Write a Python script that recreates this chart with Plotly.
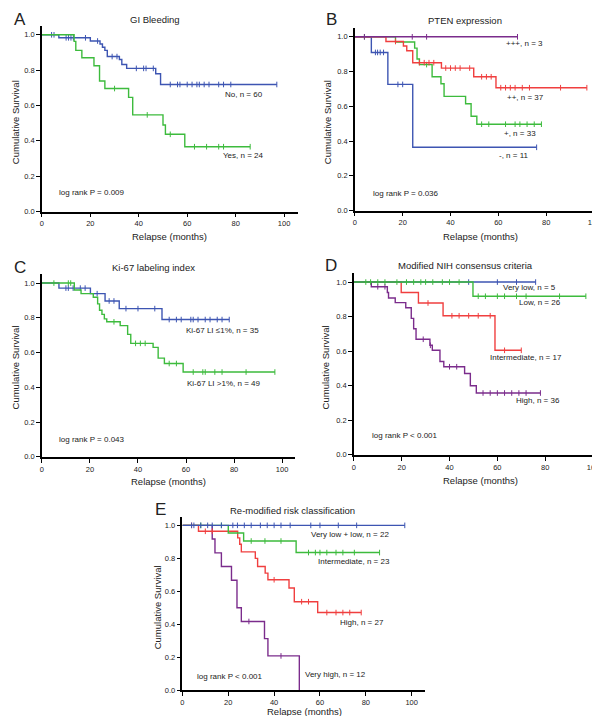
import plotly.graph_objects as go
import bisect

W, H = 600, 716
BLUE = "#3d55b2"
GREEN = "#3dbb3d"
RED = "#f03f3f"
PURPLE = "#7b2c8c"
FONT = "Liberation Sans, Arial, sans-serif"

# ---------------- data ----------------
# Panel A: GI Bleeding
A_no_times = [7, 20, 24, 25, 26, 27, 32, 33, 35, 47, 49]
A_no_surv = [0.983, 0.965, 0.948, 0.93, 0.912, 0.877, 0.86, 0.832, 0.81, 0.78, 0.719]
A_no_cens = [4, 5, 10, 11, 12, 13, 18, 23, 29, 31, 39, 42, 43, 46, 53, 56, 57, 60, 62, 64, 65, 67, 69, 73, 75, 78, 97]
A_yes_times = [13.3, 14, 16.5, 21.5, 23.8, 26, 35.8, 37.5, 50, 51, 59]
A_yes_surv = [0.963, 0.912, 0.87, 0.825, 0.739, 0.696, 0.646, 0.547, 0.49, 0.437, 0.367]
A_yes_cens = [30, 43.5, 53, 63, 68, 73, 75, 86]

# Panel B: PTEN expression
B_p3_times = []
B_p3_surv = []
B_p3_cens = [4, 24, 30, 68]
B_p2_times = [13, 20.3, 21.7, 24.2, 36.2, 49.7, 59]
B_p2_surv = [0.973, 0.947, 0.92, 0.851, 0.82, 0.77, 0.707]
B_p2_cens = [17, 27, 29, 31, 33, 38, 40, 42, 44, 48, 53, 55, 57, 61, 63, 65, 67, 70, 73, 86, 97]
B_p1_times = [17, 25, 26, 27, 32.3, 36, 37.3, 46.3, 48.6, 51]
B_p1_surv = [0.97, 0.935, 0.872, 0.84, 0.77, 0.73, 0.657, 0.615, 0.543, 0.497]
B_p1_cens = [4, 30, 53, 56, 63, 67, 69, 72, 75, 78]
B_neg_times = [6.9, 13.8, 24.2]
B_neg_surv = [0.91, 0.726, 0.364]
B_neg_cens = [8.6, 9.5, 10.6, 12, 18, 20, 76]

# Panel C: Ki-67 labeling index
C_lo_times = [7.1, 20.2, 26.3, 32.2, 50]
C_lo_surv = [0.971, 0.939, 0.897, 0.853, 0.79]
C_lo_cens = [10, 11, 13, 16, 18, 23, 28, 30, 35, 40, 47, 53, 56, 58, 62, 63, 65, 68, 70, 73, 75, 78]
C_hi_times = [13.5, 16.3, 21.4, 23.2, 24, 25, 26, 27, 32.6, 35.7, 37, 46.3, 48.4, 51, 58.8]
C_hi_surv = [0.96, 0.939, 0.918, 0.88, 0.844, 0.82, 0.794, 0.777, 0.755, 0.705, 0.653, 0.63, 0.568, 0.537, 0.488]
C_hi_cens = [5, 11, 12, 30, 39, 41, 43, 53, 56, 63, 67, 68, 72, 75, 85, 97]

# Panel D: Modified NIH consensus criteria
D_vl_times = []
D_vl_surv = []
D_vl_cens = [48, 60, 68, 76]
D_lo_times = [49.8]
D_lo_surv = [0.918]
D_lo_cens = [5, 7, 10, 13, 18, 22, 25, 28, 30, 33, 37, 40, 44, 52, 55, 60, 63, 68, 72, 86, 97]
D_in_times = [19.8, 27, 37.3, 59]
D_in_surv = [0.94, 0.879, 0.805, 0.605]
D_in_cens = [31, 41, 44, 48, 52, 57, 63, 70]
D_hi_times = [7.3, 14, 14.5, 17.3, 21.7, 24, 25, 26, 31.8, 32.8, 36, 37.6, 46.3, 48.7, 51.2]
D_hi_surv = [0.973, 0.94, 0.908, 0.881, 0.851, 0.79, 0.73, 0.669, 0.634, 0.605, 0.54, 0.51, 0.471, 0.4, 0.358]
D_hi_cens = [10, 13, 29, 32, 40, 43, 54, 57, 60, 63, 66, 69, 72, 78]

# Panel E: Re-modified risk classification
E_vl_times = []
E_vl_surv = []
E_vl_cens = [4, 5, 8, 11, 13, 17, 22, 24, 27, 30, 34, 37, 40, 43, 47, 56, 60, 68, 76, 97]
E_in_times = [20, 26.7, 49.6]
E_in_surv = [0.954, 0.905, 0.835]
E_in_cens = [8, 17, 30, 36, 43, 55, 58, 60, 63, 67, 70, 75, 86]
E_hi_times = [7, 24.1, 25, 25.7, 31.8, 32.8, 36.1, 37.3, 46.5, 48.8, 59]
E_hi_surv = [0.964, 0.924, 0.885, 0.839, 0.8, 0.75, 0.71, 0.67, 0.62, 0.537, 0.471]
E_hi_cens = [4, 10, 13, 40, 52, 55, 63, 67, 70, 73, 78]
E_vh_times = [13, 14.2, 17, 21.4, 23.8, 25.7, 35.8, 37.3, 51]
E_vh_surv = [0.917, 0.833, 0.75, 0.667, 0.5, 0.417, 0.313, 0.208, 0.0]
E_vh_cens = [29, 43]

# ---------------- layout helpers ----------------
def px_x(p):
    return p / W

def px_y(p):
    return 1 - p / H

fig = go.Figure()

panels = {
    "A": dict(n="", x0=32, x100=275, xend=289, y0=205, y1=27),
    "B": dict(n="2", x0=346, x100=586, xend=598, y0=204, y1=29),
    "C": dict(n="3", x0=32, x100=273, xend=286, y0=452, y1=277),
    "D": dict(n="4", x0=345, x100=585, xend=598, y0=450, y1=276),
    "E": dict(n="5", x0=173, x100=403, xend=416, y0=687, y1=521),
}

def add_km(panel, times, surv, cens, color):
    p = panels[panel]
    end = max(cens + times) if (cens or times) else 0
    xs = [0] + list(times) + [end]
    ys = [1.0] + list(surv) + [surv[-1] if surv else 1.0]
    xa = "x" + p["n"]
    ya = "y" + p["n"]
    fig.add_trace(go.Scatter(x=xs, y=ys, mode="lines", line=dict(color=color, width=1.4, shape="hv"),
                             xaxis=xa, yaxis=ya, showlegend=False, hoverinfo="skip"))
    cy = []
    for c in cens:
        i = bisect.bisect_right(list(times), c)
        cy.append(1.0 if i == 0 else surv[i - 1])
    fig.add_trace(go.Scatter(x=cens, y=cy, mode="markers",
                             marker=dict(symbol="line-ns", size=4, line=dict(color=color, width=1)),
                             xaxis=xa, yaxis=ya, showlegend=False, hoverinfo="skip"))

add_km("A", A_no_times, A_no_surv, A_no_cens, BLUE)
add_km("A", A_yes_times, A_yes_surv, A_yes_cens, GREEN)

add_km("B", B_neg_times, B_neg_surv, B_neg_cens, BLUE)
add_km("B", B_p1_times, B_p1_surv, B_p1_cens, GREEN)
add_km("B", B_p2_times, B_p2_surv, B_p2_cens, RED)
add_km("B", B_p3_times, B_p3_surv, B_p3_cens, PURPLE)

add_km("C", C_lo_times, C_lo_surv, C_lo_cens, BLUE)
add_km("C", C_hi_times, C_hi_surv, C_hi_cens, GREEN)

add_km("D", D_hi_times, D_hi_surv, D_hi_cens, PURPLE)
add_km("D", D_in_times, D_in_surv, D_in_cens, RED)
add_km("D", D_vl_times, D_vl_surv, D_vl_cens, BLUE)
add_km("D", D_lo_times, D_lo_surv, D_lo_cens, GREEN)

add_km("E", E_vh_times, E_vh_surv, E_vh_cens, PURPLE)
add_km("E", E_hi_times, E_hi_surv, E_hi_cens, RED)
add_km("E", E_in_times, E_in_surv, E_in_cens, GREEN)
add_km("E", E_vl_times, E_vl_surv, E_vl_cens, BLUE)

layout = dict(width=W, height=H, margin=dict(l=0, r=0, t=0, b=0),
              paper_bgcolor="white", plot_bgcolor="white",
              font=dict(family=FONT, size=8, color="#222"))

y_ticks = [0.0, 0.2, 0.4, 0.6, 0.8, 1.0]
x_ticks = [0, 20, 40, 60, 80, 100]

for key, p in panels.items():
    n = p["n"]
    pxm = (p["x100"] - p["x0"]) / 100.0
    xmax = (p["xend"] - p["x0"]) / pxm
    pym = (p["y0"] - p["y1"])
    ytop_px = p["y0"] - 1.05 * pym
    layout["xaxis" + n] = dict(domain=[px_x(p["x0"]), px_x(p["xend"])], range=[0, xmax],
                               anchor="y" + n, showline=True, linecolor="black", linewidth=1.5,
                               ticks="outside", ticklen=4, tickwidth=1.2, tickcolor="black",
                               tickvals=x_ticks, showgrid=False, zeroline=False,
                               tickfont=dict(size=7.5, family=FONT, color="#222"))
    layout["yaxis" + n] = dict(domain=[px_y(p["y0"]), px_y(ytop_px)], range=[0, 1.05],
                               anchor="x" + n, showline=True, linecolor="black", linewidth=1.5,
                               ticks="outside", ticklen=4, tickwidth=1.2, tickcolor="black",
                               tickvals=y_ticks, tickformat=".1f", showgrid=False, zeroline=False,
                               tickfont=dict(size=7.5, family=FONT, color="#222"))

fig.update_layout(**layout)

def text(x, y, s, size=8, xanchor="left", angle=0, yanchor="middle"):
    fig.add_annotation(x=px_x(x), y=px_y(y), xref="paper", yref="paper", text=s, showarrow=False,
                       xanchor=xanchor, yanchor=yanchor, textangle=angle, borderpad=0,
                       font=dict(family=FONT, size=size, color="#222"))

# panel letters and titles
text(3, 12, "A", 17)
text(316, 12, "B", 17)
text(3, 261, "C", 17)
text(315, 259, "D", 17)
text(144, 505, "E", 17)
text(145, 12, "GI Bleeding", 9.5, "center")
text(457, 13, "PTEN expression", 9.5, "center")
text(144, 261, "Ki-67 labeling index", 9.5, "center")
text(457, 259, "Modified NIH consensus criteria", 9.5, "center")
text(283, 506, "Re-modified risk classification", 9.5, "center")

# axis titles
for cx, cy in [(5, 115), (318, 115), (5, 362), (317, 362), (148, 604)]:
    text(cx, cy, "Cumulative Survival", 9.5, "center", -90)
for cx, cy in [(160, 230), (472, 230), (159, 477), (472, 476)]:
    text(cx, cy, "Relapse (months)", 9.5, "center")
text(295, 715, "Relapse (months)", 9.5, "center", 0, "bottom")

# series labels
text(215, 87, "No, n = 60")
text(213, 149, "Yes, n = 24")
text(48, 186, "log rank P = 0.009")

text(497, 36, "+++, n = 3")
text(498, 90, "++, n = 37")
text(495, 126, "+, n = 33")
text(490, 149, "-, n = 11")
text(363, 187, "log rank P = 0.036")

text(176, 325, "Ki-67 LI ≤1%, n = 35")
text(177, 378, "Ki-67 LI >1%, n = 49")
text(48, 435, "log rank P = 0.043")

text(494, 281, "Very low, n = 5")
text(510, 297, "Low, n = 26")
text(481, 352, "Intermediate, n = 17")
text(507, 395, "High, n = 36")
text(362, 431, "log rank P < 0.001")

text(301, 530, "Very low + low, n = 22")
text(308, 557, "Intermediate, n = 23")
text(330, 619, "High, n = 27")
text(295, 671, "Very high, n = 12")
text(187, 673, "log rank P < 0.001")

fig.write_html("out.html")
